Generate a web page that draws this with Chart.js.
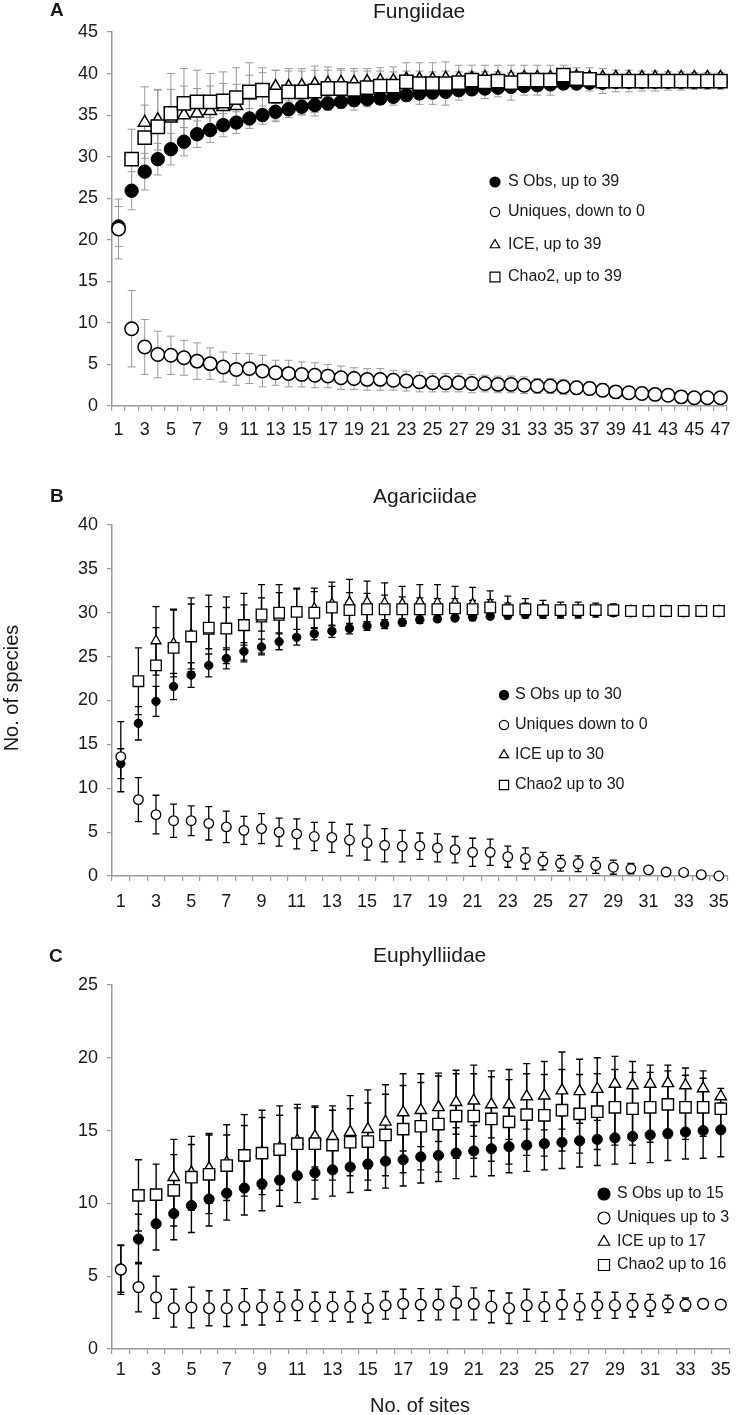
<!DOCTYPE html>
<html><head><meta charset="utf-8">
<script src="https://cdn.jsdelivr.net/npm/chart.js@4.4.1/dist/chart.umd.min.js"></script>
<style>
html,body{margin:0;padding:0;background:#fff;}
#wrap{position:relative;width:739px;height:1415px;background:#fff;}
canvas{position:absolute;left:0;}
</style></head><body>
<div id="wrap">
<canvas id="cA" width="739" height="460" style="top:0px"></canvas>
<canvas id="cB" width="739" height="455" style="top:460px"></canvas>
<canvas id="cC" width="739" height="500" style="top:915px"></canvas>
</div>
<script>
// ---------- Panel A: Fungiidae (47 sites) ----------
const sitesA = Array.from({length:47},(_,i)=>String(i+1));
const sObsA = [21.6,25.9,28.2,29.7,30.9,31.8,32.7,33.2,33.8,34.1,
 34.6,35.0,35.4,35.7,36.0,36.2,36.4,36.6,36.8,36.9,
 37.0,37.2,37.4,37.6,37.7,37.8,38.0,38.1,38.2,38.3,
 38.4,38.5,38.6,38.7,38.8,38.8,38.9,38.9,39.0,39.0,
 39.0,39.0,39.0,39.0,39.0,39.0,39.0];
const sObsErrA = [2.4,2.3,2.2,1.9,1.9,1.7,1.6,1.5,1.4,1.3,
 1.2,1.1,1.0,1.0,0.9,0.9,0.8,0.8,0.7,0.7,
 0.7,0.6,0.6,0.5,0.5,0.5,0.5,0.4,0.4,0.4,
 0.4,0.3,0.3,0.3,0.3,0.2,0.2,0.2,0.2,0.2,
 0.1,0.1,0.1,0.1,0,0,0];
const uniqA = [21.3,9.3,7.1,6.2,6.1,5.8,5.4,5.1,4.7,4.4,
 4.5,4.2,4.0,3.9,3.8,3.7,3.6,3.4,3.3,3.2,
 3.2,3.1,3.0,2.9,2.8,2.8,2.8,2.7,2.7,2.6,
 2.6,2.5,2.4,2.4,2.3,2.2,2.1,1.9,1.7,1.6,
 1.5,1.4,1.3,1.1,1.0,1.0,1.0];
const uniqErrA = [3.6,4.6,3.3,2.8,2.3,2.1,2.2,1.9,1.8,1.9,
 1.8,1.9,1.5,1.6,1.5,1.5,1.4,1.4,1.3,1.3,
 1.3,1.2,1.2,1.2,1.1,1.1,1.1,1.1,1.0,1.0,
 1.0,1.0,0.9,0.9,0.9,0.8,0.8,0.8,0.7,0.7,
 0.6,0.6,0.5,0.4,0.3,0.2,0];
const iceA = [null,null,34.1,34.4,34.6,35.0,35.2,35.5,36.0,36.1,
 37.4,37.9,38.4,38.4,38.5,38.7,38.8,38.9,38.9,39.0,
 39.1,39.1,39.3,39.3,39.3,39.4,39.4,39.4,39.5,39.5,
 39.5,39.5,39.5,39.5,39.7,39.6,39.5,39.5,39.5,39.5,
 39.5,39.5,39.5,39.5,39.5,39.5,39.5];
const iceErrA = [null,null,4.3,3.6,3.5,3.5,3.0,3.0,2.8,2.6,
 2.4,2.2,2.0,1.9,1.8,1.7,1.6,1.5,1.4,1.3,
 1.2,1.1,1.0,1.0,0.9,0.9,0.8,0.8,0.7,0.7,
 0.6,0.6,0.5,0.5,0.5,0.4,0.4,0.3,0.3,0.3,
 0.2,0.2,0.2,0.1,0.1,0.1,0];
const chaoA = [null,29.7,32.3,33.6,35.2,36.4,36.6,36.6,36.7,37.1,
 37.8,38.0,37.3,37.8,37.8,37.9,38.2,38.2,38.1,38.3,
 38.5,38.5,39.0,38.8,38.8,38.8,38.9,39.2,39.0,39.1,
 38.9,39.2,39.2,39.2,39.8,39.4,39.3,39.1,39.1,39.1,
 39.1,39.1,39.1,39.1,39.1,39.1,39.1];
const chaoErrA = [null,3.6,3.9,4.5,4.8,4.2,3.8,3.4,3.5,3.6,
 3.5,2.7,3.1,2.8,2.8,3.0,2.6,2.4,2.5,2.3,
 2.2,2.3,2.3,2.5,2.5,2.6,2.1,1.8,2.0,1.9,
 2.1,1.8,1.8,1.8,1.2,1.3,1.4,1.5,1.3,1.3,
 1.2,1.2,1.1,1.1,1.0,1.0,1.0];
const legendA = ['S Obs, up to 39','Uniques, down to 0','ICE, up to 39','Chao2, up to 39'];

// ---------- Panel B: Agariciidae (35 sites) ----------
const sitesB = Array.from({length:35},(_,i)=>String(i+1));
const sObsB = [12.8,17.4,19.9,21.6,22.9,24.0,24.8,25.6,26.1,26.7,
 27.2,27.6,27.9,28.2,28.5,28.7,28.9,29.2,29.3,29.4,
 29.5,29.6,29.7,29.8,29.8,29.9,29.9,30.0,30.0,30.0,
 30.0,30.0,30.0,30.0,30.0];
const sObsErrB = [1.7,1.9,1.7,1.5,1.4,1.3,1.2,1.0,0.9,0.9,
 0.9,0.7,0.7,0.6,0.5,0.5,0.4,0.4,0.3,0.3,
 0.3,0.3,0.2,0.2,0.2,0.2,0.1,0.1,0.1,0,
 0,0,0,0,0];
const uniqB = [13.6,8.7,7.0,6.3,6.3,6.0,5.6,5.2,5.4,5.0,
 4.8,4.5,4.4,4.1,3.8,3.5,3.4,3.4,3.2,3.0,
 2.7,2.7,2.2,2.0,1.7,1.45,1.4,1.2,1.0,0.85,
 0.7,0.45,0.4,0.15,0];
const uniqErrB = [4.0,2.5,2.2,1.9,1.7,1.9,1.8,1.6,1.7,1.6,
 1.7,1.6,1.7,1.8,2.0,1.9,1.8,1.5,1.6,1.5,
 1.6,1.5,1.2,1.2,1.0,0.9,0.9,0.9,0.8,0.6,
 0.4,0.2,0.1,0,0];
const iceB = [null,null,26.8,26.5,27.5,27.9,28.0,28.3,29.3,29.5,
 30.0,30.5,31.0,31.2,31.2,31.1,31.0,31.2,31.1,31.1,
 31.0,31.0,30.6,30.5,30.4,30.3,30.3,30.3,30.3,30.2,
 30.2,30.2,30.2,30.2,30.2];
const iceErrB = [null,null,3.9,3.8,4.2,4.1,3.8,3.9,3.9,3.7,
 2.8,2.3,2.5,2.6,2.4,2.3,2.0,2.0,2.1,1.9,
 1.9,1.5,1.3,1.1,1.0,0.9,0.9,0.8,0.7,0,
 0,0,0,0,0];
const chaoB = [null,22.2,24.0,26.0,27.3,28.3,28.2,28.6,29.8,30.0,
 30.1,30.0,30.6,30.3,30.4,30.4,30.4,30.4,30.4,30.5,
 30.4,30.6,30.3,30.4,30.3,30.3,30.3,30.3,30.3,30.2,
 30.2,30.2,30.2,30.2,30.2];
const chaoErrB = [null,3.8,4.3,4.4,3.7,2.4,2.4,2.3,1.9,2.3,
 2.6,2.4,2.4,2.0,1.8,1.6,1.4,1.3,1.2,1.1,
 1.0,0.9,0.8,0.7,0.6,0.5,0.5,0.4,0.4,0.3,
 0,0,0,0,0];
const legendB = ['S Obs up to 30','Uniques down to 0','ICE up to 30','Chao2 up to 30'];

// ---------- Panel C: Euphylliidae (35 sites) ----------
const sitesC = Array.from({length:35},(_,i)=>String(i+1));
const sObsC = [5.5,7.55,8.6,9.3,9.85,10.3,10.7,11.05,11.35,11.6,
 11.9,12.1,12.3,12.5,12.7,12.9,13.0,13.2,13.3,13.45,
 13.6,13.75,13.9,14.0,14.1,14.2,14.3,14.4,14.5,14.6,
 14.7,14.8,14.9,15.0,15.05];
const sObsErrC = [1.6,1.7,1.8,1.8,1.85,1.85,1.85,1.85,1.85,1.8,
 1.85,1.8,1.8,1.75,1.8,1.85,1.8,1.8,1.8,1.75,
 1.75,1.85,1.8,1.8,1.8,1.8,1.8,1.8,1.8,1.85,
 1.9,1.85,1.85,1.9,1.85];
const uniqC = [5.45,4.25,3.55,2.8,2.85,2.8,2.8,2.9,2.85,2.9,
 3.0,2.9,2.9,2.9,2.8,3.0,3.1,3.05,3.05,3.15,
 3.1,2.9,2.8,3.0,2.9,3.05,2.9,3.0,3.0,3.0,
 3.0,3.1,3.05,3.1,3.05];
const uniqErrC = [1.7,1.7,1.45,1.3,1.4,1.2,1.25,1.25,1.2,1.0,
 1.05,1.0,1.0,1.05,1.0,0.95,1.0,1.1,1.05,1.15,
 1.1,1.1,1.05,1.1,1.0,1.0,0.9,0.9,0.9,0.8,
 0.75,0.6,0.45,0.3,0];
const iceC = [null,null,null,11.8,12.1,12.4,12.8,13.3,13.5,13.8,
 14.3,14.6,14.6,14.9,15.1,15.6,16.25,16.4,16.6,16.95,
 17.05,16.8,16.8,17.35,17.4,17.75,17.7,17.85,18.2,18.1,
 18.2,18.25,18.1,17.9,17.35];
const iceErrC = [null,null,null,2.6,2.5,2.4,2.6,2.8,2.9,2.9,
 2.5,2.1,2.1,2.5,2.7,2.55,2.65,2.5,2.35,2.2,
 2.45,2.3,2.4,2.25,2.35,2.65,2.2,2.15,1.9,1.65,
 1.3,1.25,1.2,1.2,0];
const chaoC = [null,10.55,10.6,10.9,11.8,12.0,12.6,13.3,13.45,13.7,
 14.1,14.1,14.0,14.2,14.25,14.7,15.1,15.3,15.45,16.0,
 16.0,15.8,15.6,16.1,16.05,16.4,16.15,16.3,16.6,16.5,
 16.6,16.8,16.6,16.6,16.5];
const chaoErrC = [null,2.45,2.1,2.45,2.25,2.7,2.1,2.05,2.45,2.35,
 2.45,2.5,2.4,2.3,2.65,2.8,3.0,3.0,3.3,2.9,
 2.9,2.9,2.9,2.8,2.8,2.8,2.7,2.6,2.6,2.5,
 2.4,2.3,2.2,2.0,1.4];
const legendC = ['S Obs up to 15','Uniques up to 3','ICE up to 17','Chao2 up to 16'];

// ---------- rendering ----------
const FONT = '"Liberation Sans", Arial, Helvetica, sans-serif';
const AXIS_GREY = '#9a9a9a';

const errorBarPlugin = {
  id: 'errbars',
  beforeDatasetsDraw(chart, args, opts) {
    const ctx = chart.ctx, xs = chart.scales.x, ys = chart.scales.y;
    ctx.save();
    ctx.strokeStyle = opts.color; ctx.lineWidth = opts.width;
    chart.data.datasets.forEach(ds => {
      if (!ds.err) return;
      ds.data.forEach((v, i) => {
        const e = ds.err[i];
        if (v == null || !e) return;
        const px = xs.getPixelForValue(i);
        const y1 = ys.getPixelForValue(v + e);
        const y2 = ys.getPixelForValue(Math.max(0, v - e));
        ctx.beginPath();
        ctx.moveTo(px, y1); ctx.lineTo(px, y2);
        ctx.moveTo(px - opts.cap, y1); ctx.lineTo(px + opts.cap, y1);
        if (v - e > 0) { ctx.moveTo(px - opts.cap, y2); ctx.lineTo(px + opts.cap, y2); }
        ctx.stroke();
      });
    });
    ctx.restore();
  }
};

const textPlugin = {
  id: 'texts',
  afterDraw(chart, args, o) {
    const ctx = chart.ctx;
    ctx.save();
    ctx.fillStyle = '#1a1a1a';
    ctx.textBaseline = 'middle';
    // panel letter
    ctx.font = 'bold 19px ' + FONT; ctx.textAlign = 'left';
    ctx.fillText(o.letter, o.letterX, o.letterY);
    // title
    ctx.font = '21px ' + FONT;
    ctx.fillText(o.title, o.titleX, o.titleY);
    // legend
    ctx.font = o.legFont + 'px ' + FONT;
    const styles = [
      {pointStyle:'circle', fill:'#000'},
      {pointStyle:'circle', fill:'#fff'},
      {pointStyle:'triangle', fill:'#fff'},
      {pointStyle:'rect', fill:'#fff'}
    ];
    o.legLabels.forEach((lab, k) => {
      const st = styles[k];
      ctx.fillStyle = st.fill; ctx.strokeStyle = '#000'; ctx.lineWidth = 1.2;
      Chart.helpers.drawPoint(ctx, {pointStyle: st.pointStyle, radius: o.legR[k], borderWidth: 1.2, rotation: 0}, o.legMarkX, o.legYs[k]);
      ctx.fillStyle = '#1a1a1a';
      ctx.fillText(lab, o.legTextX, o.legYs[k]);
    });
    // extra texts (axis titles)
    (o.extra || []).forEach(t => {
      ctx.save();
      ctx.font = t.size + 'px ' + FONT;
      ctx.textAlign = 'center';
      ctx.translate(t.x, t.y);
      if (t.rot) ctx.rotate(t.rot);
      ctx.fillText(t.text, 0, 0);
      ctx.restore();
    });
    ctx.restore();
  }
};

function makePanel(id, p) {
  const ds = (data, err, style, fill, r, bw, order) => ({
    data, err, showLine: false, pointStyle: style, pointRadius: r, pointHoverRadius: r,
    pointBackgroundColor: fill, pointBorderColor: '#000', pointBorderWidth: bw,
    borderColor: '#000', backgroundColor: fill, order, clip: false
  });
  new Chart(document.getElementById(id), {
    type: 'line',
    data: {
      labels: p.labels,
      datasets: [
        ds(p.sObs, p.sObsErr, 'circle', '#000', p.r[0], 1, 3),
        ds(p.uniq, p.uniqErr, 'circle', '#fff', p.r[1], p.bw, 2),
        ds(p.ice, p.iceErr, 'triangle', '#fff', p.r[2], p.bw, 1),
        ds(p.chao, p.chaoErr, 'rect', '#fff', p.r[3], p.bw, 0)
      ]
    },
    options: {
      responsive: false, animation: false, devicePixelRatio: 1,
      layout: { padding: { left: 0, right: p.padR, top: p.padT, bottom: 0 } },
      plugins: {
        legend: { display: false }, tooltip: { enabled: false }, title: { display: false },
        errbars: { color: p.errColor, width: p.errWidth, cap: p.cap },
        texts: p.texts
      },
      scales: {
        x: {
          type: 'category', offset: true,
          grid: { drawOnChartArea: false, offset: true, tickLength: 5, color: AXIS_GREY, lineWidth: 1.2 },
          border: { color: AXIS_GREY, width: 1.5 },
          ticks: {
            autoSkip: false, maxRotation: 0, minRotation: 0, padding: p.xPad,
            color: '#1a1a1a', font: { family: FONT, size: 18 },
            callback: (v, i) => (i % 2 === 0 ? p.labels[i] : '')
          },
          afterFit: s => { s.height = p.xH; }
        },
        y: {
          min: 0, max: p.yMax,
          grid: { drawOnChartArea: false, tickLength: 5, color: AXIS_GREY, lineWidth: 1.2 },
          border: { color: AXIS_GREY, width: 1.5 },
          ticks: { stepSize: 5, padding: 9, color: '#1a1a1a', font: { family: FONT, size: 18 } },
          afterFit: s => { s.width = 112; }
        }
      }
    },
    plugins: [errorBarPlugin, textPlugin]
  });
}

makePanel('cA', {
  labels: sitesA, yMax: 45, sObs: sObsA, sObsErr: sObsErrA, uniq: uniqA, uniqErr: uniqErrA,
  ice: iceA, iceErr: iceErrA, chao: chaoA, chaoErr: chaoErrA,
  r: [6.7, 6.7, 7.3, 9.4], bw: 1.5, padR: 12, padT: 32, xH: 54, xPad: 8,
  errColor: '#9a9a9a', errWidth: 1, cap: 4,
  texts: { letter: 'A', letterX: 50, letterY: 11, title: 'Fungiidae', titleX: 373, titleY: 12,
    legLabels: legendA, legFont: 16, legMarkX: 495, legTextX: 508, legYs: [182, 212, 245, 277], legR: [5, 4.6, 5.5, 7] }
});
makePanel('cB', {
  labels: sitesB, yMax: 40, sObs: sObsB, sObsErr: sObsErrB, uniq: uniqB, uniqErr: uniqErrB,
  ice: iceB, iceErr: iceErrB, chao: chaoB, chaoErr: chaoErrB,
  r: [4.2, 4.8, 5.8, 7.5], bw: 1.3, padR: 5, padT: 65, xH: 39, xPad: 10,
  errColor: '#000', errWidth: 1.3, cap: 3.5,
  texts: { letter: 'B', letterX: 50, letterY: 37, title: 'Agariciidae', titleX: 373, titleY: 37,
    legLabels: legendB, legFont: 16, legMarkX: 504, legTextX: 515, legYs: [235, 265, 295, 325], legR: [4.6, 4.6, 5.3, 6.5],
    extra: [{ text: 'No. of species', x: 12, y: 228, size: 20, rot: -Math.PI / 2 }] }
});
makePanel('cC', {
  labels: sitesC, yMax: 25, sObs: sObsC, sObsErr: sObsErrC, uniq: uniqC, uniqErr: uniqErrC,
  ice: iceC, iceErr: iceErrC, chao: chaoC, chaoErr: chaoErrC,
  r: [5.1, 5.4, 6.6, 8], bw: 1.4, padR: 3, padT: 70, xH: 66, xPad: 5,
  errColor: '#000', errWidth: 1.4, cap: 3.5,
  texts: { letter: 'C', letterX: 49, letterY: 42, title: 'Euphylliidae', titleX: 373, titleY: 41,
    legLabels: legendC, legFont: 16, legMarkX: 604, legTextX: 617, legYs: [279, 303, 327, 350], legR: [6, 6, 6.5, 7.8],
    extra: [{ text: 'No. of sites', x: 420, y: 491, size: 20 }] }
});
</script>
</body></html>
